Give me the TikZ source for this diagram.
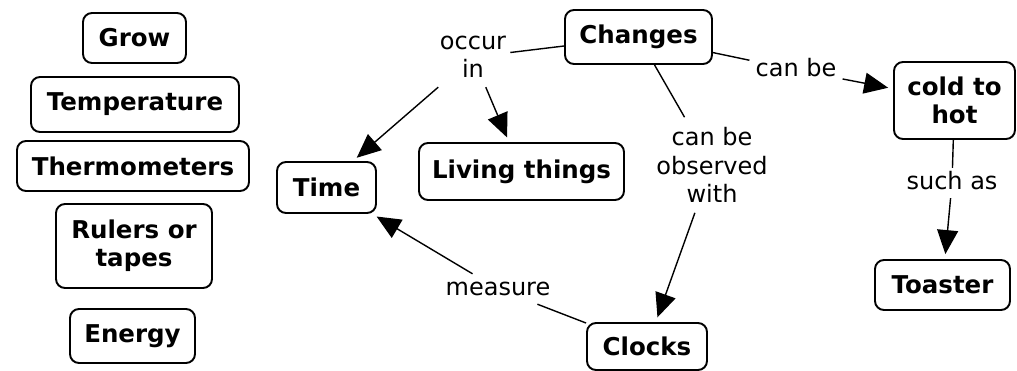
\documentclass[tikz,border=0pt]{standalone}
\usepackage{fontspec}
\setmainfont{DejaVu Sans}
\usetikzlibrary{arrows.meta}
\begin{document}
\begin{tikzpicture}[x=1pt,y=-1pt,
  concept/.style={draw,line width=1.9pt,rounded corners=9pt,font=\fontsize{24.5}{28}\selectfont\bfseries,align=center,inner sep=0pt},
  lbl/.style={font=\fontsize{24}{28.5}\selectfont,align=center,inner xsep=4pt},
  lbl1/.style={lbl,text height=17pt,text depth=5pt,inner xsep=6pt,inner ysep=4pt},
  link/.style={line width=1.4pt},
  arr/.style={link,-{Triangle[length=24pt,width=21pt]},shorten >=5pt}]
\fill[white] (0,0) rectangle (1017,370);
\useasboundingbox (0,0) rectangle (1017,370);
% left column
\node[concept,minimum width=103pt,minimum height=50pt] (grow) at (134.5,38) {Grow};
\node[concept,minimum width=208pt,minimum height=55pt] (temp) at (135,104.5) {Temperature};
\node[concept,minimum width=232pt,minimum height=50pt] (thermo) at (133,166) {Thermometers};
\node[concept,minimum width=156pt,minimum height=84pt] (rulers) at (134,246) {Rulers or\\tapes};
\node[concept,minimum width=125pt,minimum height=54pt] (energy) at (132.5,336) {Energy};
% map
\node[concept,minimum width=147pt,minimum height=54pt] (changes) at (638.5,37) {Changes};
\node[concept,minimum width=99pt,minimum height=51pt] (time) at (326.5,187.5) {Time};
\node[concept,minimum width=205pt,minimum height=57pt] (living) at (521.5,171.5) {Living things};
\node[concept,minimum width=121pt,minimum height=77pt] (cold) at (954.5,100.5) {cold to\\hot};
\node[concept,minimum width=135pt,minimum height=50pt] (toaster) at (942.5,285) {Toaster};
\node[concept,minimum width=120pt,minimum height=47pt] (clocks) at (647,346.5) {Clocks};
% labels
\node[lbl,inner ysep=9pt] (occur) at (473,57) {occur\\in};
\node[lbl1] (canbe) at (796,70) {can be};
\node[lbl,inner ysep=10pt] (observed) at (712,165) {can be\\observed\\with};
\node[lbl1] (measure) at (498,289) {measure};
\node[lbl1] (suchas) at (952,183) {such as};
% connectors
\draw[link] (changes) -- (occur);
\draw[arr] (occur) -- (time.45);
\draw[arr] (occur) -- (living.113);
\draw[link] (changes) -- (canbe);
\draw[arr] (canbe) -- (cold);
\draw[link] (changes) -- (observed);
\draw[arr] (observed) -- (clocks);
\draw[link] (clocks) -- (measure);
\draw[arr] (measure) -- (time.-30);
\draw[link] (cold) -- (suchas);
\draw[arr] (suchas) -- (toaster);
\end{tikzpicture}
\end{document}
